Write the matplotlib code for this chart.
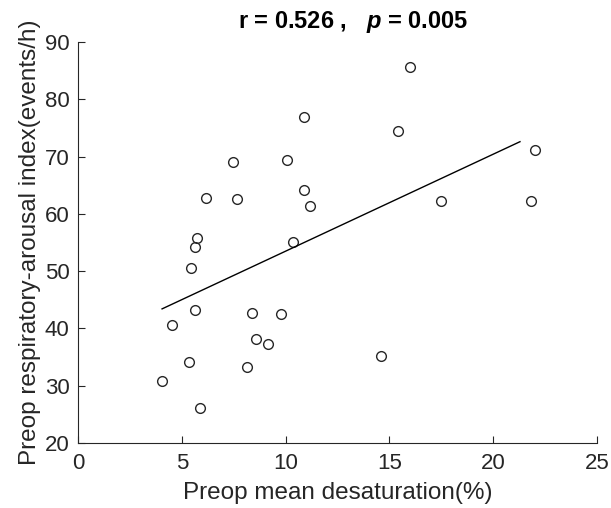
import matplotlib
matplotlib.use("Agg")
import matplotlib.pyplot as plt
import numpy as np

# Preop mean desaturation (%) vs respiratory-arousal index (events/h)
desaturation = [5.73, 5.65, 5.46, 5.65, 4.54, 5.35, 4.05, 5.87, 8.37, 8.56,
                9.17, 8.16, 9.78, 10.89, 7.47, 10.07, 6.17, 7.66, 10.88, 11.18,
                10.38, 16.01, 15.41, 22.04, 17.51, 21.83, 14.60]
arousal_index = [55.8, 54.2, 50.6, 43.3, 40.6, 34.1, 30.8, 26.1, 42.75, 38.2,
                 37.3, 33.2, 42.5, 76.9, 69.1, 69.5, 62.7, 62.6, 64.1, 61.3,
                 55.05, 85.6, 74.5, 71.2, 62.2, 62.2, 35.2]
fit_range = [4.05, 21.3]
r_value = 0.526
p_value = 0.005

plt.rcParams['font.family'] = ['Liberation Sans', 'DejaVu Sans']
plt.rcParams['mathtext.fontset'] = 'custom'
plt.rcParams['mathtext.it'] = 'Liberation Sans:italic:bold'
plt.rcParams['mathtext.rm'] = 'Liberation Sans:bold'

ink = '#262626'

fig = plt.figure(figsize=(6.11, 5.08), dpi=100)
ax = fig.add_axes([0.1277, 0.128, 0.849, 0.789])

x = np.array(desaturation)
y = np.array(arousal_index)
ax.plot(x, y, 'o', markersize=7, markerfacecolor='none',
        markeredgecolor=ink, markeredgewidth=1.0)

# least-squares fit line
slope, intercept = np.polyfit(x, y, 1)
fx = np.array(fit_range)
ax.plot(fx, slope * fx + intercept, color='black', linewidth=1.0)

ax.set_xlim(0, 25)
ax.set_ylim(20, 90)
ax.set_xticks(np.arange(0, 26, 5))
ax.set_yticks(np.arange(20, 91, 10))

for side in ['top', 'right']:
    ax.spines[side].set_visible(False)
for side in ['left', 'bottom']:
    ax.spines[side].set_color(ink)
    ax.spines[side].set_linewidth(0.8)
ax.tick_params(direction='in', length=5, width=0.8, color=ink,
               labelcolor=ink, labelsize=16)
ax.tick_params(axis='x', pad=7)
ax.tick_params(axis='y', pad=6)

ax.set_xlabel('Preop mean desaturation(%)', fontsize=17.5, color=ink,
              labelpad=6)
ax.set_ylabel('Preop respiratory-arousal index(events/h)', fontsize=17.5,
              color=ink, labelpad=3)
ax.set_title(f'r = {r_value:.3f} ,   $p$ = {p_value:.3f}', fontsize=17,
             fontweight='bold', color='black', pad=10, x=0.53)

fig.savefig('out.png', dpi=100)
